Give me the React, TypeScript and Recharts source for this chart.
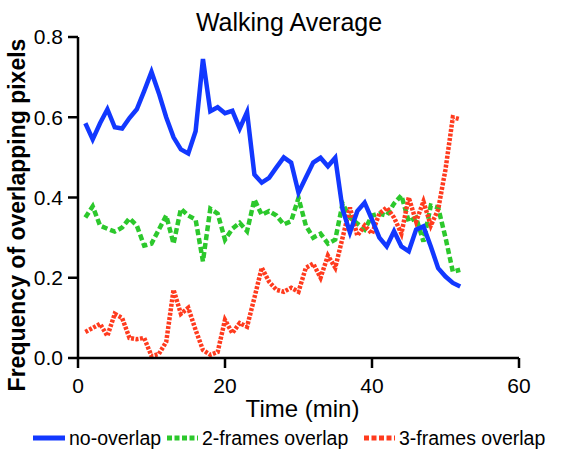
import React from 'react';
import { LineChart, Line, XAxis, YAxis } from 'recharts';

const minutes = [1, 2, 3, 4, 5, 6, 7, 8, 9, 10, 11, 12, 13, 14, 15, 16, 17, 18, 19, 20, 21, 22, 23, 24, 25, 26, 27, 28, 29, 30, 31, 32, 33, 34, 35, 36, 37, 38, 39, 40, 41, 42, 43, 44, 45, 46, 47, 48, 49, 50, 51, 52];

const noOverlap = [0.585, 0.545, 0.585, 0.62, 0.575, 0.572, 0.598, 0.62, 0.665, 0.713, 0.66, 0.6, 0.55, 0.52, 0.51, 0.565, 0.745, 0.615, 0.625, 0.61, 0.616, 0.572, 0.613, 0.457, 0.437, 0.449, 0.475, 0.5, 0.487, 0.412, 0.45, 0.487, 0.499, 0.478, 0.499, 0.37, 0.313, 0.366, 0.387, 0.345, 0.3, 0.278, 0.316, 0.278, 0.266, 0.32, 0.328, 0.278, 0.224, 0.203, 0.187, 0.178];

const twoFrames = [0.35, 0.378, 0.33, 0.322, 0.315, 0.325, 0.348, 0.33, 0.28, 0.285, 0.32, 0.355, 0.285, 0.372, 0.355, 0.345, 0.241, 0.372, 0.36, 0.295, 0.322, 0.337, 0.316, 0.395, 0.357, 0.366, 0.355, 0.333, 0.341, 0.399, 0.33, 0.3, 0.31, 0.285, 0.295, 0.385, 0.35, 0.335, 0.32, 0.355, 0.36, 0.355, 0.385, 0.405, 0.34, 0.35, 0.29, 0.38, 0.375, 0.3, 0.215, 0.22];

const threeFrames = [0.065, 0.075, 0.085, 0.055, 0.11, 0.1, 0.05, 0.047, 0.05, 0.005, 0.01, 0.04, 0.17, 0.11, 0.125, 0.07, 0.02, 0.008, 0.015, 0.095, 0.062, 0.087, 0.078, 0.15, 0.225, 0.19, 0.17, 0.165, 0.175, 0.165, 0.225, 0.235, 0.2, 0.255, 0.225, 0.3, 0.375, 0.305, 0.33, 0.31, 0.36, 0.375, 0.35, 0.31, 0.4, 0.34, 0.39, 0.33, 0.37, 0.47, 0.6, 0.595];

const xTicks = [0, 20, 40, 60];
const yTicks = [0, 0.2, 0.4, 0.6, 0.8];

const seriesNames = ['no-overlap', '2-frames overlap', '3-frames overlap'];

const BLUE = '#1238ff';
const GREEN = '#2cc82c';
const RED = '#ff3b1e';
const FONT = '"Liberation Sans", Arial, sans-serif';

const data = minutes.map((t, i) => ({
  t,
  a: noOverlap[i],
  b: twoFrames[i],
  c: threeFrames[i],
}));

const legendItems = [
  { name: seriesNames[0], color: BLUE, dash: undefined, iconLeft: 33, iconW: 32, textLeft: 69 },
  { name: seriesNames[1], color: GREEN, dash: '5 2.5', iconLeft: 167, iconW: 31, textLeft: 202 },
  { name: seriesNames[2], color: RED, dash: '5 2.5', iconLeft: 364, iconW: 31, textLeft: 399 },
];

export default function App() {
  return (
    <div style={{ position: 'absolute', left: 0, top: 0, width: 563, height: 453, background: '#fff', fontFamily: FONT }}>
      <div
        style={{
          position: 'absolute',
          left: 0,
          width: 578,
          top: 10,
          textAlign: 'center',
          fontSize: 25,
          lineHeight: '25px',
          color: '#000',
        }}
      >
        Walking Average
      </div>
      <LineChart width={563} height={453} data={data} margin={{ top: 37, right: 44, bottom: 0, left: 28 }}>
        <XAxis
          dataKey="t"
          type="number"
          domain={[0, 60]}
          ticks={xTicks}
          height={95}
          axisLine={{ stroke: '#000', strokeWidth: 2.5 }}
          tickLine={{ stroke: '#000', strokeWidth: 2.5 }}
          tickSize={10}
          tickMargin={10}
          tick={{ fill: '#000', fontSize: 21, fontFamily: FONT }}
          label={{ value: 'Time (min)', position: 'insideBottom', offset: 36, fill: '#000', fontSize: 24, fontFamily: FONT, dx: 4 }}
        />
        <YAxis
          type="number"
          domain={[0, 0.8]}
          ticks={yTicks}
          width={50}
          axisLine={{ stroke: '#000', strokeWidth: 2.5 }}
          tickLine={{ stroke: '#000', strokeWidth: 2.5 }}
          tickSize={10}
          tickMargin={5}
          tick={{ fill: '#000', fontSize: 21, fontFamily: FONT }}
          tickFormatter={(v: number) => v.toFixed(1)}
          label={{
            content: () => (
              <text
                x={25}
                y={215}
                transform="rotate(-90 25 215)"
                textAnchor="middle"
                fontSize={23}
                fontWeight="bold"
                fontFamily={FONT}
                fill="#000"
              >
                Frequency of overlapping pixels
              </text>
            ),
          }}
        />
        <Line type="linear" dataKey="b" stroke={GREEN} strokeWidth={4.5} strokeDasharray="6 3" dot={false} isAnimationActive={false} />
        <Line type="linear" dataKey="c" stroke={RED} strokeWidth={4.5} strokeDasharray="3 1.5" dot={false} isAnimationActive={false} />
        <Line type="linear" dataKey="a" stroke={BLUE} strokeWidth={4.5} dot={false} isAnimationActive={false} />
      </LineChart>
      {legendItems.map((it) => (
        <React.Fragment key={it.name}>
          <svg style={{ position: 'absolute', left: it.iconLeft, top: 434 }} width={it.iconW} height={8}>
            <line x1={0} y1={4} x2={it.iconW} y2={4} stroke={it.color} strokeWidth={5} strokeDasharray={it.dash} strokeLinecap={it.dash ? 'butt' : 'round'} />
          </svg>
          <div
            style={{
              position: 'absolute',
              left: it.textLeft,
              top: 428,
              fontSize: 19.5,
              lineHeight: '20px',
              color: '#000',
              whiteSpace: 'nowrap',
            }}
          >
            {it.name}
          </div>
        </React.Fragment>
      ))}
    </div>
  );
}
